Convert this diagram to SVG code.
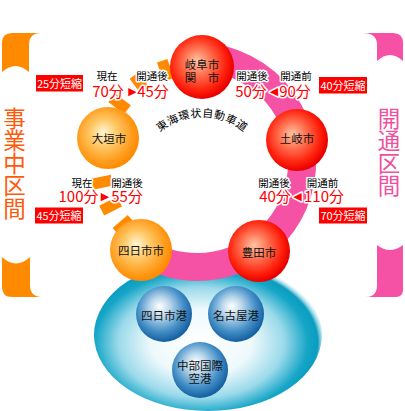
<svg xmlns="http://www.w3.org/2000/svg" width="405" height="411" viewBox="0 0 405 411">
<defs>
<style>
.t{font-family:"Noto Sans CJK JP","Noto Sans CJK SC",sans-serif}
.sm{font-size:10.5px;fill:#000;text-anchor:middle}
.num{font-size:15px;fill:#f00;text-anchor:middle}
.tri{font-family:"DejaVu Sans",sans-serif;font-size:11px;fill:#f00;text-anchor:middle}
.halo{stroke:#fff;stroke-width:3;stroke-linejoin:round;paint-order:stroke}
.badge{fill:#f00}
.btx{font-size:11px;fill:#fff;text-anchor:middle}
.lbl{font-size:11.5px;fill:#111;text-anchor:middle}
.dash{fill:#ff8a00}
.orange{fill:#ff8a00}
.pink{fill:#f552a5}
.vert{font-size:22.5px;writing-mode:vertical-rl;text-orientation:upright}
</style>
<radialGradient id="gRed" cx="0.45" cy="0.45" r="0.55" fx="0.42" fy="0.4">
<stop offset="0" stop-color="#ffc4a4"/>
<stop offset="0.4" stop-color="#ff7050"/>
<stop offset="0.8" stop-color="#ff1e0a"/>
<stop offset="1" stop-color="#e60000"/>
</radialGradient>
<radialGradient id="gOrange" cx="0.45" cy="0.45" r="0.55" fx="0.42" fy="0.4">
<stop offset="0" stop-color="#fff6d2"/>
<stop offset="0.4" stop-color="#ffc866"/>
<stop offset="0.8" stop-color="#ff9d1e"/>
<stop offset="1" stop-color="#ff8a00"/>
</radialGradient>
<radialGradient id="gBlue" cx="0.45" cy="0.42" r="0.58" fx="0.42" fy="0.36">
<stop offset="0" stop-color="#ffffff"/>
<stop offset="0.3" stop-color="#bcd8ec"/>
<stop offset="0.7" stop-color="#4690c8"/>
<stop offset="1" stop-color="#125ea0"/>
</radialGradient>
<radialGradient id="gPool" cx="0.47" cy="0.55" r="0.55">
<stop offset="0" stop-color="#ffffff"/>
<stop offset="0.4" stop-color="#eef9fc"/>
<stop offset="0.66" stop-color="#9bdaea"/>
<stop offset="0.85" stop-color="#15a5c7"/>
<stop offset="0.93" stop-color="#0a9dc0"/>
<stop offset="1" stop-color="#bfe8f1" stop-opacity="0"/>
</radialGradient>
<path id="arcPath" d="M136,183 A66,66 0 0 1 268,183"/>
</defs>
<rect width="405" height="411" fill="#fff"/>

<g id="bracket-left">
<path class="orange" d="M2,72 V43 Q2,33 12,33 H41 Q29,33 29,45 V72 Q15.5,60 2,72 Z"/>
<path class="orange" d="M2,257 Q16,270 30,257 V285 Q30,297 42,297 H12 Q2,297 2,287 Z"/>
<text class="t vert" x="14.5" y="107" fill="#ff5a0a">事業中区間</text>
</g>
<g id="bracket-right">
<path class="pink" d="M403,61 V43 Q403,33 393,33 H363 Q377,33 377,45 V61 Q390,49 403,61 Z"/>
<path class="pink" d="M377,245 Q390,255 403,245 V290 Q403,297 396,297 H366 Q377,297 377,285 Z"/>
<text class="t vert" x="389" y="107" fill="#f050a0">開通区間</text>
</g>

<g id="pool">
<ellipse cx="208" cy="335" rx="114" ry="76" fill="url(#gPool)"/>
</g>

<g id="connectors">
<path d="M200.7,57.1 A105,105 0 1 1 141.4,251" fill="none" stroke="#f552a5" stroke-width="28"/>
<rect class="dash" x="284" y="156.5" width="20" height="11" transform="rotate(139 197 162)"/>
<rect class="dash" x="284" y="156.5" width="20" height="11" transform="rotate(153 197 162)"/>
<rect class="dash" x="284" y="156.5" width="20" height="11" transform="rotate(168 197 162)"/>
<rect class="dash" x="284" y="156.5" width="20" height="11" transform="rotate(217 197 162)"/>
<rect class="dash" x="284" y="156.5" width="20" height="11" transform="rotate(234 197 162)"/>
<rect class="dash" x="284" y="156.5" width="20" height="11" transform="rotate(251 197 162)"/>
<text class="t" font-size="11" fill="#000" letter-spacing="0.4"><textPath href="#arcPath" startOffset="50%" text-anchor="middle">東海環状自動車道</textPath></text>
</g>

<g id="gifu">
<circle cx="202" cy="67" r="32" fill="url(#gRed)"/>
<text class="t lbl" x="202" y="69">岐阜市</text>
<text class="t lbl" x="202" y="82">関　市</text>
</g>
<g id="toki">
<circle cx="297" cy="140" r="31" fill="url(#gRed)"/>
<text class="t lbl" x="297" y="143">土岐市</text>
</g>
<g id="toyota">
<circle cx="259" cy="251" r="31" fill="url(#gRed)"/>
<text class="t lbl" x="259" y="257">豊田市</text>
</g>
<g id="yokkaichi">
<circle cx="141" cy="250" r="31" fill="url(#gOrange)"/>
<text class="t lbl" x="141" y="255">四日市市</text>
</g>
<g id="ogaki">
<circle cx="108" cy="138" r="31" fill="url(#gOrange)"/>
<text class="t lbl" x="109" y="143">大垣市</text>
</g>
<g id="port-yokkaichi">
<circle cx="164" cy="314" r="28" fill="url(#gBlue)"/>
<text class="t lbl" x="164" y="320">四日市港</text>
</g>
<g id="port-nagoya">
<circle cx="236" cy="314" r="28" fill="url(#gBlue)"/>
<text class="t lbl" x="236" y="320">名古屋港</text>
</g>
<g id="airport">
<circle cx="200" cy="370" r="28" fill="url(#gBlue)"/>
<text class="t lbl" x="200" y="370">中部国際</text>
<text class="t lbl" x="200" y="383">空港</text>
</g>

<g id="time-gifu-ogaki">
<text class="t sm halo" x="107" y="80">現在</text>
<text class="t sm halo" x="152" y="80">開通後</text>
<text class="t num halo" x="108" y="96.5">70分</text>
<text class="tri halo" x="132.5" y="95">▶</text>
<text class="t num halo" x="153" y="96.5">45分</text>
</g>
<g id="time-gifu-toki">
<text class="t sm halo" x="252" y="80">開通後</text>
<text class="t sm halo" x="296" y="80">開通前</text>
<text class="t num halo" x="251" y="96.5">50分</text>
<text class="tri halo" x="274" y="95">◀</text>
<text class="t num halo" x="295" y="96.5">90分</text>
</g>
<g id="time-ogaki-yokkaichi">
<text class="t sm halo" x="82" y="186.5">現在</text>
<text class="t sm halo" x="127" y="186.5">開通後</text>
<text class="t num halo" x="78.5" y="201.5">100分</text>
<text class="tri halo" x="105" y="200">▶</text>
<text class="t num halo" x="127" y="201.5">55分</text>
</g>
<g id="time-toki-toyota">
<text class="t sm halo" x="274" y="186.5">開通後</text>
<text class="t sm halo" x="322.5" y="186.5">開通前</text>
<text class="t num halo" x="275" y="201.5">40分</text>
<text class="tri halo" x="297.5" y="200">◀</text>
<text class="t num halo" x="324" y="201.5">110分</text>
</g>

<g id="badge-25">
<rect class="badge" x="36" y="75" width="47" height="16.5"/>
<text class="t btx" x="59.5" y="87.5">25分短縮</text>
</g>
<g id="badge-40">
<rect class="badge" x="319" y="77" width="48" height="16.5"/>
<text class="t btx" x="343" y="89.5">40分短縮</text>
</g>
<g id="badge-45">
<rect class="badge" x="35" y="207.5" width="48" height="16"/>
<text class="t btx" x="59" y="220">45分短縮</text>
</g>
<g id="badge-70">
<rect class="badge" x="319" y="207.5" width="48" height="16"/>
<text class="t btx" x="343" y="220">70分短縮</text>
</g>
</svg>
